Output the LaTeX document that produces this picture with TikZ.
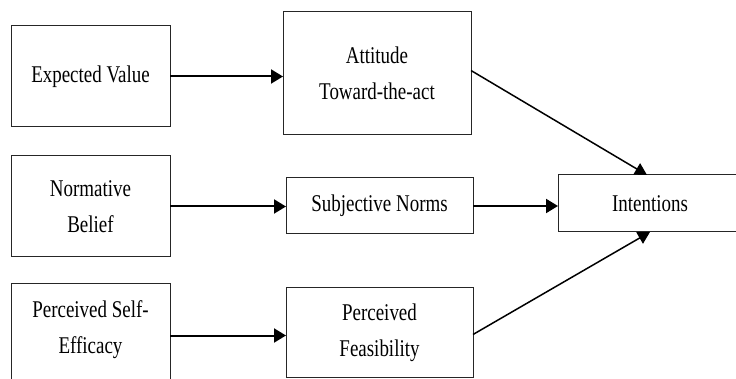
\documentclass[tikz,border=0pt]{standalone}
\usepackage{fontspec}
\setmainfont{Liberation Serif}[FakeStretch=0.79]
\usetikzlibrary{arrows.meta}
\begin{document}
\begin{tikzpicture}[x=1pt,y=-1pt,
  boxline/.style={draw=black!85,line width=1pt},
  box/.style={boxline,rectangle,inner sep=0pt,outer sep=0pt,align=center,
    font=\fontsize{24}{36}\selectfont},
  txt/.style={rectangle,inner sep=0pt,outer sep=0pt,align=center,
    font=\fontsize{24}{36}\selectfont},
  harrow/.style={line width=2pt,-{Triangle[length=12pt,width=14pt]}},
  darrow/.style={line width=1.5pt,-{Triangle[length=12pt,width=13pt]}}]
\useasboundingbox (0,0) rectangle (736,379);
\clip (0,0) rectangle (736,379);
\node[box,minimum width=159pt,minimum height=101pt] (ev) at (90.5,76.5) {Expected Value};
\node[box,minimum width=188pt,minimum height=123pt] (at) at (377,73.5) {Attitude\\Toward-the-act};
\node[box,minimum width=159pt,minimum height=101pt] (nb) at (90.5,206.5) {Normative\\Belief};
\node[box,minimum width=187pt,minimum height=56pt] (sn) at (379.5,206) {Subjective Norms};
\node[box,minimum width=184pt,minimum height=57pt] (in) at (650,203.5) {Intentions};
\node[txt,minimum width=159pt,minimum height=91pt] (se) at (90.5,329.5) {Perceived Self-\\Efficacy};
\draw[boxline] ([yshift=-30pt]se.south west) -- (se.north west) -- (se.north east) -- ([yshift=-30pt]se.south east);
\node[box,minimum width=187pt,minimum height=89pt] (pf) at (379.5,332.5) {Perceived\\Feasibility};
\draw[harrow] (ev.east) -- (ev.east -| at.west);
\draw[harrow] (nb.east) -- (nb.east -| sn.west);
\draw[harrow] (sn.east) -- (sn.east -| in.west);
\draw[harrow] ([yshift=-6pt]se.east) -- ([yshift=-6pt]se.east -| pf.west);
\draw[darrow] ([yshift=3pt]at.east) -- ([xshift=-3pt]in.north);
\draw[darrow] ([yshift=-2pt]pf.east) -- (in.south);
\end{tikzpicture}
\end{document}
